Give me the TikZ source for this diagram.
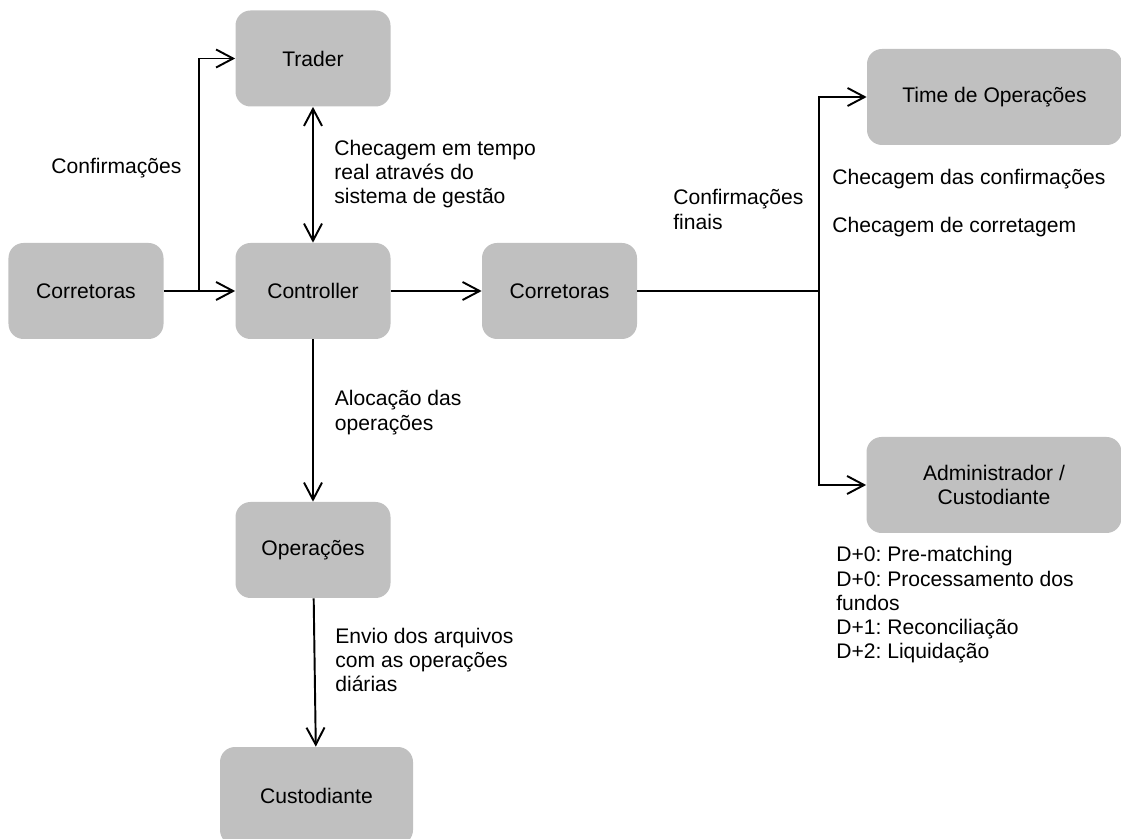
\documentclass[tikz,border=0pt]{standalone}
\usepackage{fontspec}
\setmainfont{Liberation Sans}
\usepackage{tikz}
\usetikzlibrary{positioning,arrows.meta}
\definecolor{cinza}{RGB}{192,192,192}
\frenchspacing

\begin{document}
\begin{tikzpicture}[
    font=\fontsize{12}{13.8}\selectfont,
    caixa/.style={fill=cinza,rounded corners=0.3cm,inner sep=0pt,align=center,
                  minimum width=3.1cm,minimum height=1.92cm},
    texto/.style={anchor=west,inner sep=0pt,align=left},
    seta/.style={line width=1.1pt,-{Straight Barb[length=0.34cm,width=0.36cm]}},
    dupla/.style={line width=1.1pt,{Straight Barb[length=0.34cm,width=0.36cm]}-{Straight Barb[length=0.34cm,width=0.36cm]}}
  ]
  \useasboundingbox (0,0) rectangle (22.42,-16.78);

  % caixas
  \node[caixa] (corrL) at (1.72,-5.82) {Corretoras};
  \node[caixa] (trader) at (6.26,-1.17) {Trader};
  \node[caixa] (controller) at (6.26,-5.82) {Controller};
  \node[caixa] (corrM) at (11.19,-5.82) {Corretoras};
  \node[caixa,minimum width=5.1cm] (time) at (19.89,-1.94) {Time de Operações};
  \node[caixa,minimum width=5.1cm] (admin) at (19.88,-9.70) {Administrador /\\Custodiante};
  \node[caixa] (operacoes) at (6.26,-11.0) {Operações};
  \node[caixa,minimum width=3.86cm,minimum height=1.96cm] (custodiante) at (6.33,-15.92) {Custodiante};

  % textos
  \node[texto] (conf) at (1.02,-3.36) {Confirmações};
  \node[texto] (checagem) at (6.68,-3.48) {Checagem em tempo\\real através do\\sistema de gestão};
  \node[texto] (finais) at (13.46,-4.19) {Confirmações\\finais};
  \node[texto] (chec1) at (16.64,-3.58) {Checagem das confirmações};
  \node[texto] (chec2) at (16.64,-4.54) {Checagem de corretagem};
  \node[texto] (aloc) at (6.69,-8.25) {Alocação das\\operações};
  \node[texto] (envio) at (6.70,-13.2) {Envio dos arquivos\\com as operações\\diárias};
  \node[texto] (prazos) at (16.72,-12.10) {D+0: Pre-matching\\D+0: Processamento dos\\fundos\\D+1: Reconciliação\\D+2: Liquidação};

  % ligacoes
  \coordinate (j1) at (3.98,-5.82);
  \coordinate (j2) at (16.38,-5.82);
  \draw[seta] (corrL) -- (controller);
  \draw[seta] (j1) |- (trader);
  \draw[dupla] (trader) -- (controller);
  \draw[seta] (controller) -- (corrM);
  \draw[line width=1.1pt] (corrM) -- (j2);
  \draw[seta] (j2) |- (time);
  \draw[seta] (j2) |- (admin);
  \draw[seta] (controller) -- (operacoes);
  \draw[seta] (operacoes) -- (custodiante);
\end{tikzpicture}
\end{document}
